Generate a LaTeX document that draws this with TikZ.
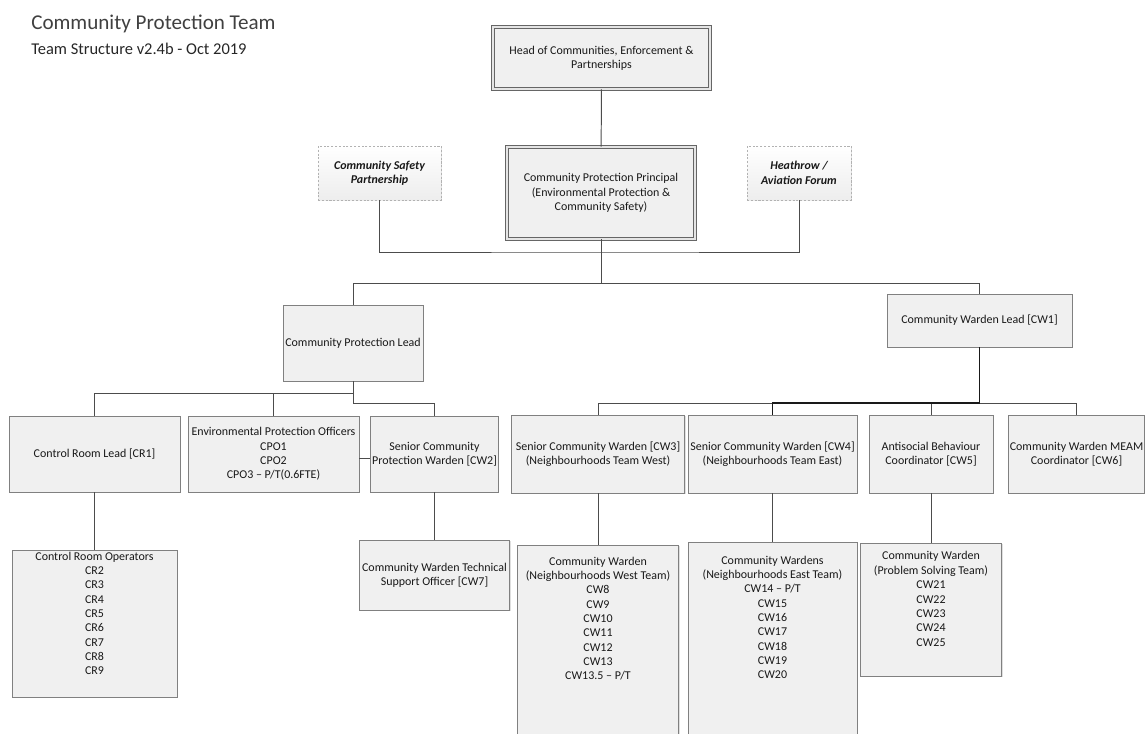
\documentclass[tikz,border=0pt]{standalone}
\usepackage{fontspec}
\setmainfont{Carlito}
\usetikzlibrary{shadows}
\newcommand\boxfont{\fontsize{8.5}{10.2}\selectfont}
\tikzset{
  box/.style={draw=black!50, fill=black!6, line width=0.6pt, align=center, inner sep=1pt, font=\boxfont, text=black!90,
    drop shadow={shadow xshift=0.8pt, shadow yshift=-0.8pt, opacity=0.25}},
  sz/.style 2 args={minimum width=#1*0.025cm, minimum height=#2*0.025cm},
  dblbox/.style={box, draw=black!60, double=black!10, double distance=1.3pt, line width=0.5pt},
  dashbox/.style={box, draw=black!30, dash pattern=on 1.5pt off 1.2pt, top color=white, bottom color=black!7, font=\boxfont\bfseries\itshape},
  boxtext/.style={align=center, inner sep=0pt, font=\boxfont, text=black!90},
  link/.style={draw=black!70, line width=0.7pt},
  mainlink/.style={draw=black!90, line width=1.2pt},
  title/.style={font=\fontsize{15}{18}\selectfont, text=black!75, inner sep=0pt, anchor=base west},
  subtitle/.style={font=\fontsize{11.7}{14}\selectfont, text=black!85, inner sep=0pt, anchor=base west},
}

\begin{document}
\begin{tikzpicture}[x=0.025cm, y=-0.025cm]
\useasboundingbox (0,0) rectangle (1145,733);
\node[title] (ttl) at (31,29) {Community Protection Team};
\node[subtitle] (subttl) at (31,54) {Team Structure v2.4b - Oct 2019};
\node[dblbox, sz={217}{62}] (head) at (601.5,58) {Head of Communities, Enforcement \&\\Partnerships};
\node[dblbox, sz={188}{92}] (princ) at (601,193) {Community Protection Principal\\(Environmental Protection \&\\Community Safety)};
\node[dashbox, sz={123}{54}] (csp) at (379.5,173) {Community Safety\\Partnership};
\node[dashbox, sz={104}{54}] (haf) at (799,173) {Heathrow /\\Aviation Forum};
\node[box, sz={140}{76}] (cpl) at (353,343) {Community Protection Lead};
\node[box, sz={185}{53}] (cwl) at (979.5,320.5) {Community Warden Lead [CW1]};
\node[box, sz={171}{76}] (cr1) at (94.5,454) {Control Room Lead [CR1]};
\node[box, sz={171}{76}] (epo) at (273.5,454) {Environmental Protection Officers\\CPO1\\CPO2\\CPO3 – P/T(0.6FTE)};
\node[box, sz={127}{76}] (cw2) at (434.5,454) {Senior Community\\Protection Warden [CW2]};
\node[box, sz={173}{78}] (cw3) at (598,454) {Senior Community Warden [CW3]\\(Neighbourhoods Team West)};
\node[box, sz={169}{78}] (cw4) at (772.5,454) {Senior Community Warden [CW4]\\(Neighbourhoods Team East)};
\node[box, sz={124}{78}] (cw5) at (931,454) {Antisocial Behaviour\\Coordinator [CW5]};
\node[box, sz={135}{78}] (cw6) at (1076.5,454) {Community Warden MEAM\\Coordinator [CW6]};
\node[box, sz={150}{70}] (cw7) at (434.5,575) {Community Warden Technical\\Support Officer [CW7]};
\node[box, sz={165}{147}] (cro) at (94.5,623.5) {};
\node[boxtext, anchor=north] (crotext) at ([yshift=-0.05cm]cro.north) {Control Room Operators\\CR2\\CR3\\CR4\\CR5\\CR6\\CR7\\CR8\\CR9};
\node[box, sz={161}{195}] (cww) at (598,642.5) {};
\node[boxtext, anchor=north] (cwwtext) at ([yshift=-0.3cm]cww.north) {Community Warden\\(Neighbourhoods West Team)\\CW8\\CW9\\CW10\\CW11\\CW12\\CW13\\CW13.5 – P/T};
\node[box, sz={169}{198}] (cwe) at (772.5,641) {};
\node[boxtext, anchor=north] (cwetext) at ([yshift=-0.35cm]cwe.north) {Community Wardens\\(Neighbourhoods East Team)\\CW14 – P/T\\CW15\\CW16\\CW17\\CW18\\CW19\\CW20};
\node[box, sz={141}{133}] (pst) at (931,609.5) {};
\node[boxtext, anchor=north] (psttext) at ([yshift=-0.22cm]pst.north) {Community Warden\\(Problem Solving Team)\\CW21\\CW22\\CW23\\CW24\\CW25};
\coordinate (sidebus) at (601,252);
\coordinate (topbus) at (601,283);
\coordinate (leftbus) at (353,393);
\coordinate (leftjog) at (353,403);
\coordinate (rightbus) at (979.5,403);
\draw[link] (head) -- (princ);
\draw[link] (princ) -- (topbus);
\draw[link] (csp) |- (sidebus) -| (haf);
\draw[link] (cpl) |- (topbus) -| (cwl);
\draw[link] (cpl) -- (leftbus);
\draw[link] (cr1) |- (leftbus);
\draw[link] (epo) -- (epo |- leftbus);
\draw[link] (leftbus) -- (leftjog) -| (cw2);
\draw[link] ([yshift=-0.1cm]epo.east) -- ([yshift=-0.1cm]cw2.west);
\draw[link] (cr1) -- (cro);
\draw[link] (cw2) -- (cw7);
\draw[link] (cw3) |- (rightbus);
\draw[link] (rightbus) -| (cw5);
\draw[link] (rightbus) -| (cw6);
\draw[mainlink] (cwl) -- (rightbus) -| (cw4);
\draw[link] (cw3) -- (cww);
\draw[link] (cw4) -- (cwe);
\draw[link] (cw5) -- (pst);
\end{tikzpicture}
\end{document}
